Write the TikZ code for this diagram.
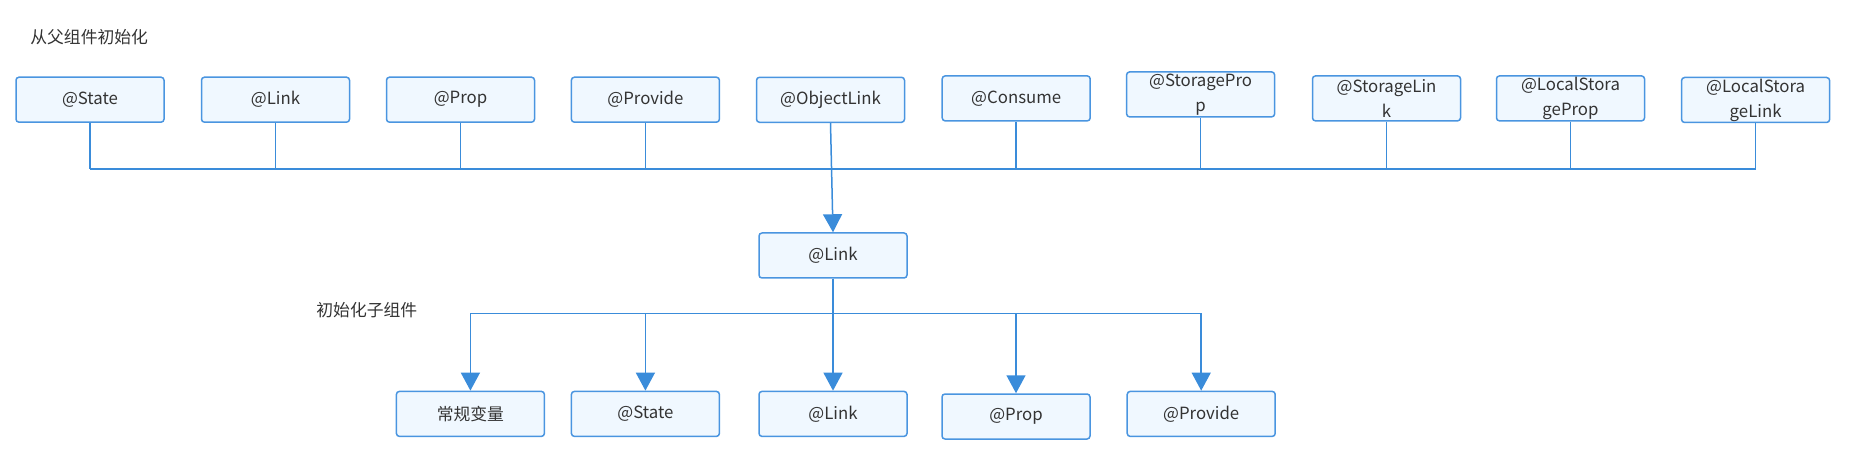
\documentclass[tikz,border=0pt]{standalone}
\usepackage{fontspec}
\setmainfont{Noto Sans CJK SC}
\usepackage{tikz}
\usetikzlibrary{calc, positioning, arrows.meta}
\definecolor{boxline}{HTML}{4A95E0}
\definecolor{boxfill}{HTML}{F0F8FF}
\definecolor{wirecol}{HTML}{3A8CDA}
\definecolor{txt}{HTML}{333333}
\tikzstyle{blk}=[draw=boxline, fill=boxfill, line width=0.75pt, rounded corners=1.5pt, minimum width=74pt, minimum height=22.5pt, inner sep=0pt, align=center, text=txt, font=\fontsize{8.4}{12.5}\selectfont]
\tikzstyle{note}=[inner sep=0pt, text=txt, font=\fontsize{8.4}{10}\selectfont]
\tikzstyle{wire}=[draw=wirecol, line width=0.75pt]
\tikzset{>={Triangle[width=9.5pt,length=9pt]}}

\begin{document}
\begin{tikzpicture}[x=0.5pt, y=-0.5pt]
\useasboundingbox (0,0) rectangle (1858,470);
% the two headings
\node[note, anchor=west] (H1) at (30,37.5) {从父组件初始化};
\node[note, anchor=west] (H2) at (316,310) {初始化子组件};
% the ``parent'' decorators
\node[blk] (P0) at (90,99.7) {@State};
\node[blk] (P1) at (275.5,99.7) {@Link};
\node[blk] (P2) at (460.5,99.7) {@Prop};
\node[blk] (P3) at (645.4,99.7) {@Provide};
\node[blk] (P4) at (830.5,99.8) {@ObjectLink};
\node[blk] (P5) at (1016.2,98.4) {@Consume};
\node[blk] (P6) at (1200.6,94.4) {@StoragePro\\p};
\node[blk] (P7) at (1386.5,98.4) {@StorageLin\\k};
\node[blk] (P8) at (1570.5,98.4) {@LocalStora\\geProp};
\node[blk] (P9) at (1755.6,100) {@LocalStora\\geLink};
% the middle vertex
\node[blk] (L) at (833,255.5) {@Link};
% the ``child'' decorators
\node[blk] (K0) at (470.4,413.9) {常规变量};
\node[blk] (K1) at (645.4,413.9) {@State};
\node[blk] (K2) at (833,413.9) {@Link};
\node[blk] (K3) at (1016,416.5) {@Prop};
\node[blk] (K4) at (1201.2,413.9) {@Provide};
% the two buses
\coordinate (pbus) at (90,169);
\coordinate (kbus) at (470.4,313.3);
\draw[wire] (P0.south |- pbus) -- (P9.south |- pbus);
\draw[wire] (P0.south) -- (P0.south |- pbus);
\draw[wire] (P1.south) -- (P1.south |- pbus);
\draw[wire] (P2.south) -- (P2.south |- pbus);
\draw[wire] (P3.south) -- (P3.south |- pbus);
\draw[wire] (P5.south) -- (P5.south |- pbus);
\draw[wire] (P6.south) -- (P6.south |- pbus);
\draw[wire] (P7.south) -- (P7.south |- pbus);
\draw[wire] (P8.south) -- (P8.south |- pbus);
\draw[wire] (P9.south) -- (P9.south |- pbus);
\draw[wire, ->, fill=wirecol] (P4.south) -- (L.north);
% the edges down to the children
\draw[wire] (K0.north |- kbus) -- (K4.north |- kbus);
\draw[wire, ->, fill=wirecol] (L.south) -- (K2.north);
\draw[wire, ->, fill=wirecol] (K0.north |- kbus) -- (K0.north);
\draw[wire, ->, fill=wirecol] (K1.north |- kbus) -- (K1.north);
\draw[wire, ->, fill=wirecol] (K3.north |- kbus) -- (K3.north);
\draw[wire, ->, fill=wirecol] (K4.north |- kbus) -- (K4.north);
\end{tikzpicture}
\end{document}
